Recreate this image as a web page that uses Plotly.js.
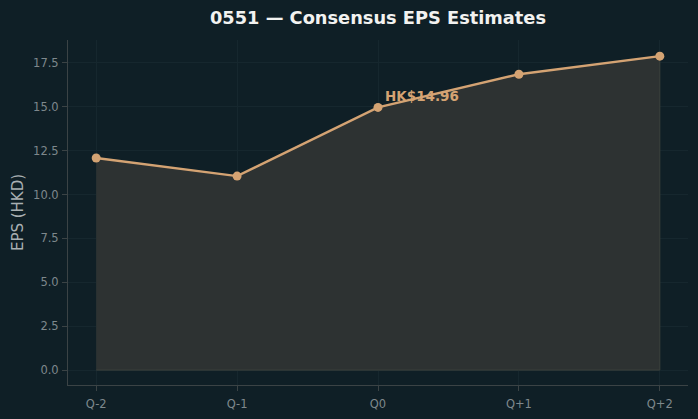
<!DOCTYPE html>
<html>
<head>
<meta charset="utf-8">
<script src="https://cdn.plot.ly/plotly-3.0.1.min.js"></script>
<style>
  html, body { margin: 0; padding: 0; background: #0f1f26; }
  #chart { width: 698px; height: 419px; }
</style>
</head>
<body>
<div id="chart"></div>
<script>
// Quarterly consensus EPS estimates for 0551 (HKD)
const quarters = ["Q-2", "Q-1", "Q0", "Q+1", "Q+2"];
const epsValues = [12.08, 11.05, 14.96, 16.85, 17.88];
const currentQuarter = "Q0";
const currentEps = 14.96;

const bg = "#0f1f26";
const accent = "#d4a373";
const gridColor = "#16272e";
const spineColor = "#3b4345";
const tickColor = "#7e888c";

// shaded area beneath the estimate line, closed down to zero
const areaX = quarters.concat(quarters.slice().reverse());
const areaY = epsValues.concat(quarters.map(() => 0));

const traces = [
  {
    x: areaX,
    y: areaY,
    type: "scatter",
    mode: "lines",
    fill: "toself",
    fillcolor: "#2d3232",
    line: { color: "#3c403c", width: 1 },
    hoverinfo: "skip",
    showlegend: false
  },
  {
    x: quarters,
    y: epsValues,
    type: "scatter",
    mode: "lines+markers",
    line: { color: accent, width: 2.4 },
    marker: { color: accent, size: 9 },
    showlegend: false
  }
];

const layout = {
  width: 698,
  height: 419,
  paper_bgcolor: bg,
  plot_bgcolor: bg,
  margin: { l: 68, r: 10, t: 40, b: 34 },
  font: { family: "DejaVu Sans, sans-serif", color: tickColor },
  title: {
    text: "<b>0551 — Consensus EPS Estimates</b>",
    font: { family: "DejaVu Sans, sans-serif", size: 17.8, color: "#f2f2f0" },
    x: 378 / 698,
    xanchor: "center",
    y: 1 - 18 / 419,
    yanchor: "middle"
  },
  xaxis: {
    type: "category",
    range: [-0.2, 4.2],
    showgrid: true,
    gridcolor: gridColor,
    gridwidth: 1,
    zeroline: false,
    showline: true,
    linecolor: spineColor,
    linewidth: 1,
    ticks: "outside",
    ticklen: 5,
    tickcolor: spineColor,
    ticklabelstandoff: 3,
    tickfont: { size: 11.5, color: tickColor },
    fixedrange: true
  },
  yaxis: {
    range: [-0.85, 18.8],
    tickmode: "array",
    tickvals: [0, 2.5, 5, 7.5, 10, 12.5, 15, 17.5],
    ticktext: ["0.0", "2.5", "5.0", "7.5", "10.0", "12.5", "15.0", "17.5"],
    showgrid: true,
    gridcolor: gridColor,
    gridwidth: 1,
    zeroline: false,
    showline: true,
    linecolor: spineColor,
    linewidth: 1,
    ticks: "outside",
    ticklen: 5,
    tickcolor: spineColor,
    ticklabelstandoff: 1,
    tickfont: { size: 11.5, color: tickColor },
    title: {
      text: "EPS (HKD)",
      font: { size: 15, color: "#a9b0b3" },
      standoff: 5
    },
    fixedrange: true
  },
  annotations: [
    {
      x: currentQuarter,
      y: currentEps,
      text: "<b>HK$" + currentEps.toFixed(2) + "</b>",
      showarrow: false,
      xanchor: "left",
      yanchor: "bottom",
      xshift: 5,
      yshift: 1,
      font: { family: "DejaVu Sans, sans-serif", size: 13.5, color: accent }
    }
  ]
};

Plotly.newPlot("chart", traces, layout, { displayModeBar: false, staticPlot: true });
</script>
</body>
</html>
